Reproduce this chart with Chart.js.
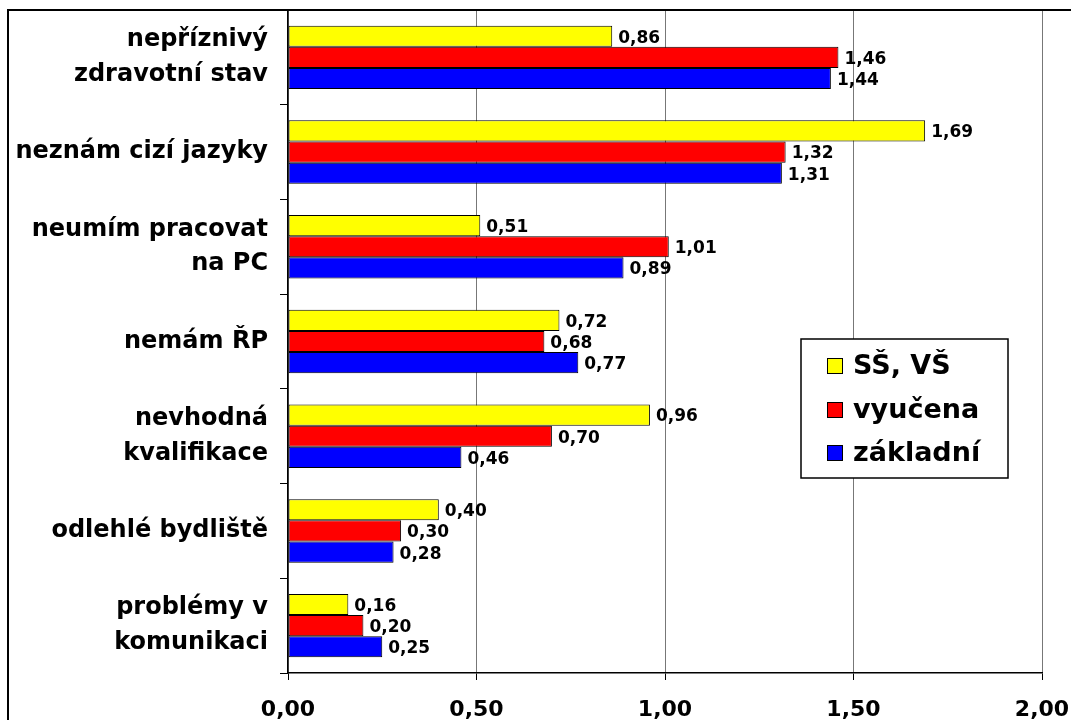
<!DOCTYPE html>
<html>
<head>
<meta charset="utf-8">
<script src="https://cdn.jsdelivr.net/npm/chart.js@4/dist/chart.umd.min.js"></script>
<style>
  html, body { margin: 0; padding: 0; background: #fff; overflow: hidden; }
  #wrap { width: 1071px; height: 720px; }
</style>
</head>
<body>
<div id="wrap"><canvas id="myChart" width="1071" height="720"></canvas></div>
<script>
const categories = [
  ['nepříznivý', 'zdravotní stav'],
  'neznám cizí jazyky',
  ['neumím pracovat', 'na PC'],
  'nemám ŘP',
  ['nevhodná', 'kvalifikace'],
  'odlehlé bydliště',
  ['problémy v', 'komunikaci']
];
const seriesNames = ['SŠ, VŠ', 'vyučena', 'základní'];
const seriesColors = ['#FFFF00', '#FF0000', '#0000FF'];
const valuesSSVS = [0.86, 1.69, 0.51, 0.72, 0.96, 0.40, 0.16];
const valuesVyucena = [1.46, 1.32, 1.01, 0.68, 0.70, 0.30, 0.20];
const valuesZakladni = [1.44, 1.31, 0.89, 0.77, 0.46, 0.28, 0.25];
const tickLabels = ['0,00', '0,50', '1,00', '1,50', '2,00'];

const FONT = "'DejaVu Sans', Verdana, sans-serif";
const chartCanvas = document.getElementById('myChart');

const seriesValues = [valuesSSVS, valuesVyucena, valuesZakladni];
const datasets = seriesNames.map(function(name, i) {
  return {
    label: name,
    data: seriesValues[i],
    backgroundColor: seriesColors[i],
    borderColor: '#000',
    borderWidth: 1,
    borderSkipped: false,
    barPercentage: 1.0,
    categoryPercentage: 0.67
  };
});

// bar value labels, decimal comma
const valueLabels = {
  id: 'valueLabels',
  afterDatasetsDraw(chart) {
    const ctx = chart.ctx;
    ctx.save();
    ctx.font = 'bold 17px ' + FONT;
    ctx.fillStyle = '#000';
    ctx.textAlign = 'left';
    ctx.textBaseline = 'middle';
    chart.data.datasets.forEach(function(ds, i) {
      chart.getDatasetMeta(i).data.forEach(function(bar, j) {
        ctx.fillText(ds.data[j].toFixed(2).replace('.', ','), bar.x + 6, bar.y + 2);
      });
    });
    ctx.restore();
  }
};

// boxed legend inside the plot + outer frame
const boxLegend = {
  id: 'boxLegend',
  afterDraw(chart) {
    const ctx = chart.ctx;
    ctx.save();
    ctx.fillStyle = '#fff';
    ctx.fillRect(801, 339, 207, 139);
    ctx.strokeStyle = '#000';
    ctx.lineWidth = 1.5;
    ctx.strokeRect(801, 339, 207, 139);
    const rows = [366, 410, 453];
    ctx.font = 'bold 27px ' + FONT;
    ctx.textBaseline = 'middle';
    chart.data.datasets.forEach(function(ds, i) {
      ctx.fillStyle = ds.backgroundColor;
      ctx.fillRect(827, rows[i] - 8, 16, 16);
      ctx.lineWidth = 1;
      ctx.strokeStyle = '#000';
      ctx.strokeRect(827.5, rows[i] - 7.5, 15, 15);
      ctx.fillStyle = '#000';
      ctx.fillText(ds.label, 853, rows[i] + 1);
    });
    // chart frame
    ctx.lineWidth = 2;
    ctx.strokeRect(8, 10, 1200, 1000);
    ctx.restore();
  }
};

const myChart = new Chart(chartCanvas.getContext('2d'), {
  type: 'bar',
  data: { labels: categories, datasets: datasets },
  plugins: [valueLabels, boxLegend],
  options: {
    indexAxis: 'y',
    responsive: false,
    animation: false,
    layout: { padding: { left: 5, top: 10, right: 29, bottom: 0 } },
    plugins: {
      legend: { display: false },
      tooltip: { enabled: false }
    },
    scales: {
      x: {
        min: 0,
        max: 2,
        afterFit: function(s) {
          s.height = 47;
          s.paddingLeft = 0; s.paddingRight = 0;
        },
        ticks: {
          stepSize: 0.5,
          padding: 17,
          color: '#000',
          font: { family: FONT, size: 22, weight: 'bold' },
          callback: function(v, idx) { return tickLabels[idx]; }
        },
        grid: { color: '#777', lineWidth: 1, tickLength: 7, tickColor: '#000' },
        border: { color: '#000', width: 1.5 }
      },
      y: {
        afterFit: function(s) {
          s.width = 283;
          s.paddingTop = 0; s.paddingBottom = 0;
        },
        ticks: {
          padding: 12,
          color: '#000',
          font: { family: FONT, size: 24, weight: 'bold', lineHeight: 1.45 }
        },
        grid: { offset: true, drawOnChartArea: false, tickLength: 8, color: '#000' },
        border: { color: '#000', width: 1.5 }
      }
    }
  }
});
</script>
</body>
</html>
